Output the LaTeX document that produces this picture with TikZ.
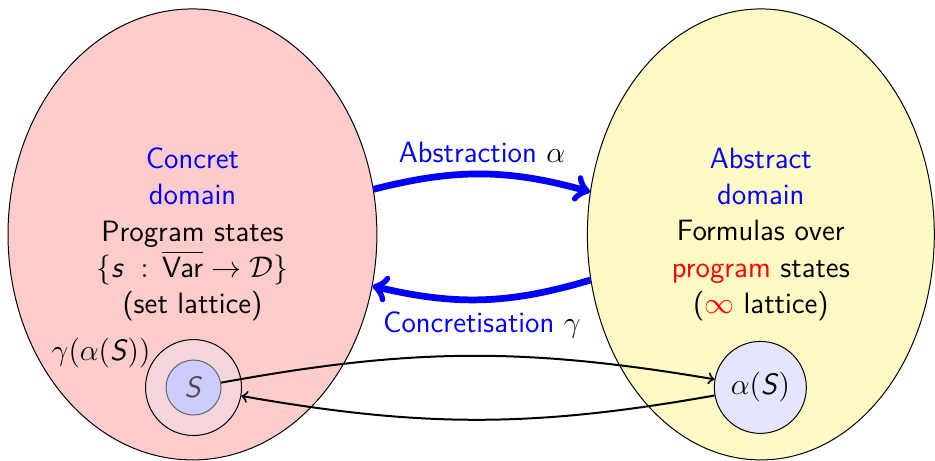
\documentclass[tikz,border=0pt]{standalone}
\usepackage{amsmath}
\usetikzlibrary{positioning,shapes.geometric}
\definecolor{concretefill}{RGB}{255,204,204}
\definecolor{abstractfill}{RGB}{255,249,196}
\definecolor{gammafill}{RGB}{244,213,220}
\newcommand{\svar}[1]{\textsf{\textit{#1}}}

\begin{document}
\begin{tikzpicture}[
  every node/.style={font=\sffamily\fontsize{11.8}{14.6}\selectfont},
  every path/.style={>=to},
  domain node/.style={ellipse,draw,align=center,minimum height=6.362cm},
  set node/.style={circle,draw,inner sep=0pt},
  map edge/.style={->,draw=blue,line width=2.7pt},
  elem edge/.style={->,draw,thick},
  ]
  \useasboundingbox (0,0) rectangle (13.19,6.502);
  \node[domain node,fill=concretefill,minimum width=5.204cm] (C) at (2.715,3.195)
  {\textcolor{blue}{Concret}\\ \textcolor{blue}{domain}\\ Program states\\
    $\{\svar{s}\;:\,\overline{\textsf{Var}} \rightarrow \mathcal{D}\}$\\ (set lattice)};
  \node[domain node,fill=abstractfill,minimum width=4.894cm] (A) at (10.733,3.195)
  {\textcolor{blue}{Abstract}\\ \textcolor{blue}{domain}\\ Formulas over\\
    \textcolor{red}{program} states\\ (\textcolor{red}{$\infty$} lattice)};
  \node[set node,fill=gammafill,minimum size=1.354cm] (G) at (2.73,1.035) {};
  \node[set node,fill=blue!20,draw=black!60,text=black!70,minimum size=0.776cm] (S) at (G) {$\svar{S}$};
  \node[left=0pt of G.north west] (GL) {$\gamma(\alpha(\svar{S}))$};
  \node[set node,fill=blue!10,minimum size=1.298cm] (aS) at (10.726,1.037) {$\alpha(\svar{S})$};
  \path
  (C.14) edge[map edge,bend left=15] node[above,text=blue]{Abstraction \textcolor{black}{$\alpha$}} (A.166)
  (A.195) edge[map edge,bend left=15] node[below,text=blue]{Concretisation \textcolor{black}{$\gamma$}} (C.-16);
  \path
  (S) edge[elem edge,bend left=10] (aS)
  (aS) edge[elem edge,bend left=10] (G);
\end{tikzpicture}
\end{document}
